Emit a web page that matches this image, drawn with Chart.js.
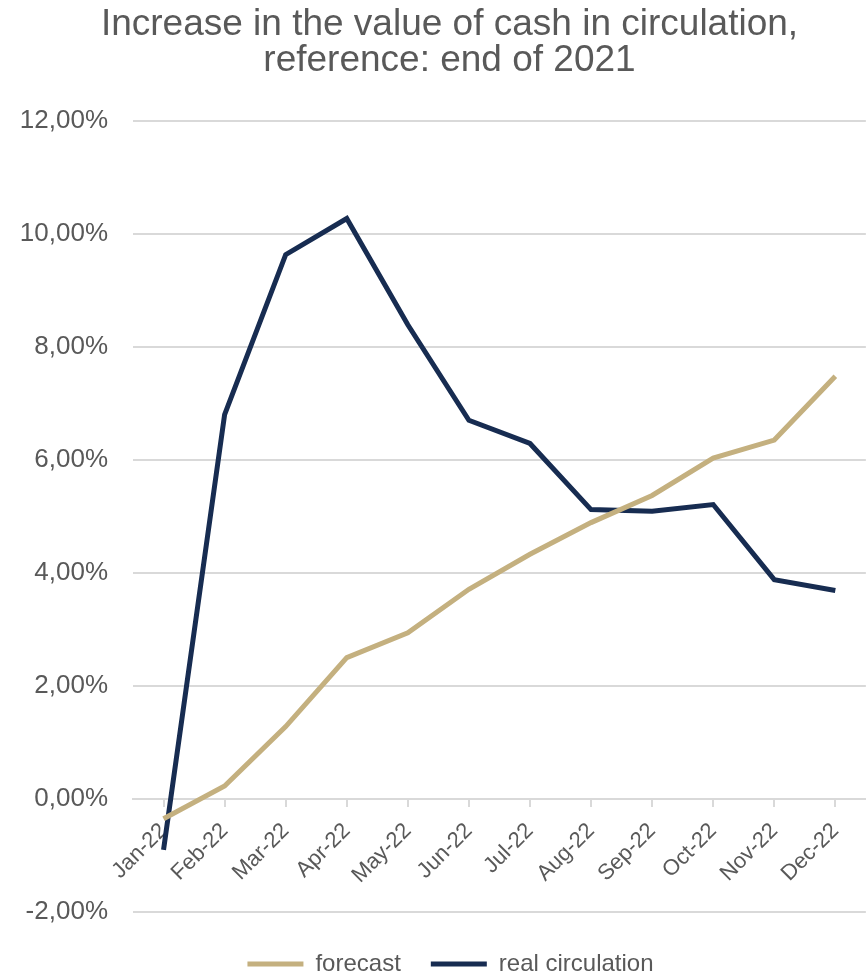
<!DOCTYPE html>
<html>
<head>
<meta charset="utf-8">
<script src="https://cdn.jsdelivr.net/npm/chart.js@4/dist/chart.umd.min.js"></script>
<style>
  html, body { margin: 0; padding: 0; background: #fff; }
  #wrap { width: 866px; height: 973px; position: relative; }
</style>
</head>
<body>
<div id="wrap"><canvas id="chart"></canvas></div>
<script>
const months = ['Jan-22', 'Feb-22', 'Mar-22', 'Apr-22', 'May-22', 'Jun-22',
                'Jul-22', 'Aug-22', 'Sep-22', 'Oct-22', 'Nov-22', 'Dec-22'];

const forecast = [-0.35, 0.23, 1.28, 2.50, 2.94, 3.71, 4.33, 4.89, 5.37, 6.03, 6.35, 7.48];
const realCirculation = [-0.90, 6.80, 9.63, 10.27, 8.39, 6.70, 6.29, 5.12, 5.09, 5.21, 3.88, 3.69];

const titleLines = ['Increase in the value of cash in circulation,', 'reference: end of 2021'];

const textColor = '#595959';
const gridColor = '#d9d9d9';
const font = 'Liberation Sans, Arial, sans-serif';

// title and legend in the original sit a bit right of the page centre
const shiftBlocks = {
    id: 'shiftBlocks',
    afterLayout(chart) {
        if (chart.titleBlock) chart.titleBlock.left += 30;
        if (chart.legend) chart.legend.left += 32;
    }
};

const ctx = document.getElementById('chart').getContext('2d');

new Chart(ctx, {
    type: 'line',
    data: {
        labels: months,
        datasets: [{
            label: 'forecast',
            data: forecast,
            borderColor: '#c4b07f',
            backgroundColor: '#c4b07f',
            borderWidth: 5,
            pointRadius: 0,
            tension: 0,
            fill: false
        }, {
            label: 'real circulation',
            data: realCirculation,
            borderColor: '#172c51',
            backgroundColor: '#172c51',
            borderWidth: 5,
            pointRadius: 0,
            tension: 0,
            fill: false
        }]
    },
    plugins: [shiftBlocks],
    options: {
        responsive: true,
        maintainAspectRatio: false,
        animation: false,
        layout: { padding: { left: 0, right: -3, top: 7, bottom: -13 } },
        plugins: {
            title: {
                display: true,
                text: titleLines,
                color: textColor,
                font: { family: font, size: 37, weight: 'normal', lineHeight: 0.97 },
                padding: { top: 0, bottom: 42 }
            },
            legend: {
                position: 'bottom',
                title: {
                    display: true,
                    text: ' ',
                    font: { size: 5, lineHeight: 1 },
                    padding: { top: 0, bottom: 5 }
                },
                labels: {
                    color: textColor,
                    font: { family: font, size: 24 },
                    usePointStyle: true,
                    pointStyle: 'line',
                    pointStyleWidth: 56,
                    padding: 30
                }
            },
            tooltip: { enabled: false }
        },
        scales: {
            x: {
                position: { y: 0 },
                offset: true,
                grid: {
                    drawOnChartArea: false,
                    color: gridColor,
                    lineWidth: 2,
                    tickLength: 7
                },
                border: { color: gridColor, width: 2 },
                ticks: {
                    color: textColor,
                    font: { family: font, size: 22 },
                    autoSkip: false,
                    minRotation: 45,
                    maxRotation: 45,
                    padding: 12
                }
            },
            y: {
                min: -2,
                max: 12,
                afterFit: (scale) => { scale.width = 133; },
                grid: { color: gridColor, lineWidth: 2, drawTicks: false },
                border: { display: false },
                ticks: {
                    stepSize: 2,
                    color: textColor,
                    font: { family: font, size: 26 },
                    padding: 25,
                    callback: (val) => val.toFixed(2).replace('.', ',') + '%'
                }
            }
        }
    }
});
</script>
</body>
</html>
